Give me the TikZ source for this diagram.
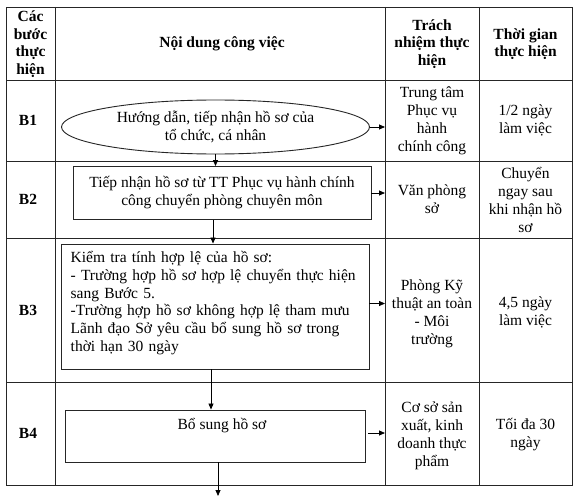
\documentclass[tikz,border=0pt]{standalone}
\usepackage{fontspec}
\setmainfont{Liberation Serif}
\usetikzlibrary{shapes.geometric,arrows.meta}
\begin{document}
\begin{tikzpicture}[x=1pt,y=-1pt,
  gridline/.style={line width=0.9pt,draw=black!85},
  boxshape/.style={draw=black!85,line width=0.9pt,rectangle,inner sep=0pt},
  txt/.style={align=center,font=\fontsize{15.5}{18}\selectfont,inner sep=0pt},
  hdr/.style={align=center,font=\fontsize{15.5}{17.5}\selectfont\bfseries,inner sep=0pt},
  arr/.style={draw=black,line width=0.8pt,-{Triangle[length=6pt,width=5pt]}}
]
\useasboundingbox (0,0) rectangle (575,500);
\fill[white] (0,0) rectangle (575,500);
% table grid
\draw[gridline] (6,7) rectangle (572,485);
\foreach \x in {55,385,479} \draw[gridline] (\x,7) -- (\x,485);
\foreach \y in {80,161,238,382} \draw[gridline] (6,\y) -- (572,\y);
\coordinate (colR) at (385,0);
% header
\node[hdr] (h1) at (30.5,44) {Các\\bước\\thực\\hiện};
\node[hdr] (h2) at (222,44) {Nội dung công việc};
\node[hdr] (h3) at (432,44) {Trách\\nhiệm thực\\hiện};
\node[hdr] (h4) at (525.5,44) {Thời gian\\thực hiện};
% step labels
\node[hdr] (s1) at (28,120.5) {B1};
\node[hdr] (s2) at (28,199.5) {B2};
\node[hdr] (s3) at (28,310) {B3};
\node[hdr] (s4) at (28,433.5) {B4};
% responsibility
\node[txt] (r1) at (432,120.5) {Trung tâm\\Phục vụ\\hành\\chính công};
\node[txt] (r2) at (432,199.5) {Văn phòng\\sở};
\node[txt] (r3) at (432,314) {Phòng Kỹ\\thuật an toàn\\- Môi\\trường};
\node[txt] (r4) at (432,436) {Cơ sở sản\\xuất, kinh\\doanh thực\\phẩm};
% time
\node[txt] (t1) at (525.5,120.5) {1/2 ngày\\làm việc};
\node[txt] (t2) at (525.5,199.5) {Chuyển\\ngay sau\\khi nhận hồ\\sơ};
\node[txt] (t3) at (525.5,312) {4,5 ngày\\làm việc};
\node[txt] (t4) at (525.5,435) {Tối đa 30\\ngày};
% flow shapes
\node[ellipse,draw=black!85,line width=0.9pt,minimum width=308,minimum height=54,inner sep=0pt,
  align=center,font=\fontsize{15.5}{18}\selectfont] (e1) at (215.5,127)
  {Hướng dẫn, tiếp nhận hồ sơ của\\tổ chức, cá nhân};
\node[boxshape,minimum width=298,minimum height=53,align=center,
  font=\fontsize{15.5}{18}\selectfont] (b2) at (222,193)
  {Tiếp nhận hồ sơ từ TT Phục vụ hành chính\\công chuyển phòng chuyên môn};
\node[boxshape,minimum width=308,minimum height=125] (b3) at (215,306.5) {};
\node[anchor=north west,inner sep=0pt,text width=292pt,align=left,
  font=\fontsize{15.5}{17.8}\selectfont] (b3t) at (70.5,251)
  {Kiểm tra tính hợp lệ của hồ sơ:\\
   - Trường hợp hồ sơ hợp lệ chuyển thực hiện\\
   sang Bước 5.\\
   \makebox[\linewidth][s]{-Trường hợp hồ sơ không hợp lệ tham mưu}\\
   \makebox[\linewidth][s]{Lãnh đạo Sở yêu cầu bổ sung hồ sơ trong}\\
   thời hạn 30 ngày};
\node[boxshape,minimum width=300,minimum height=52] (b4) at (215,436) {};
\node[txt] (b4t) at (222,426) {Bổ sung hồ sơ};
\coordinate (endpt) at (218,496);
% connectors
\draw[arr] (e1.east) -- (e1.east -| colR);
\draw[arr] (b2.east) -- (b2.east -| colR);
\draw[arr] ([yshift=3pt]b3.east) -- ([yshift=3pt]b3.east -| colR);
\draw[arr] ([xshift=3pt,yshift=3pt]b4.east) -- ([yshift=3pt]b4.east -| colR);
\draw[arr] (e1.south) -- (e1.south |- b2.north);
\draw[arr] ([xshift=-9pt]b2.south) -- ([xshift=-9pt]b2.south |- b3.north);
\draw[arr] ([xshift=-4pt]b3.south) -- ([xshift=-4pt]b3.south |- b4.north);
\draw[arr] (b4.south -| endpt) -- (endpt);
\end{tikzpicture}
\end{document}
